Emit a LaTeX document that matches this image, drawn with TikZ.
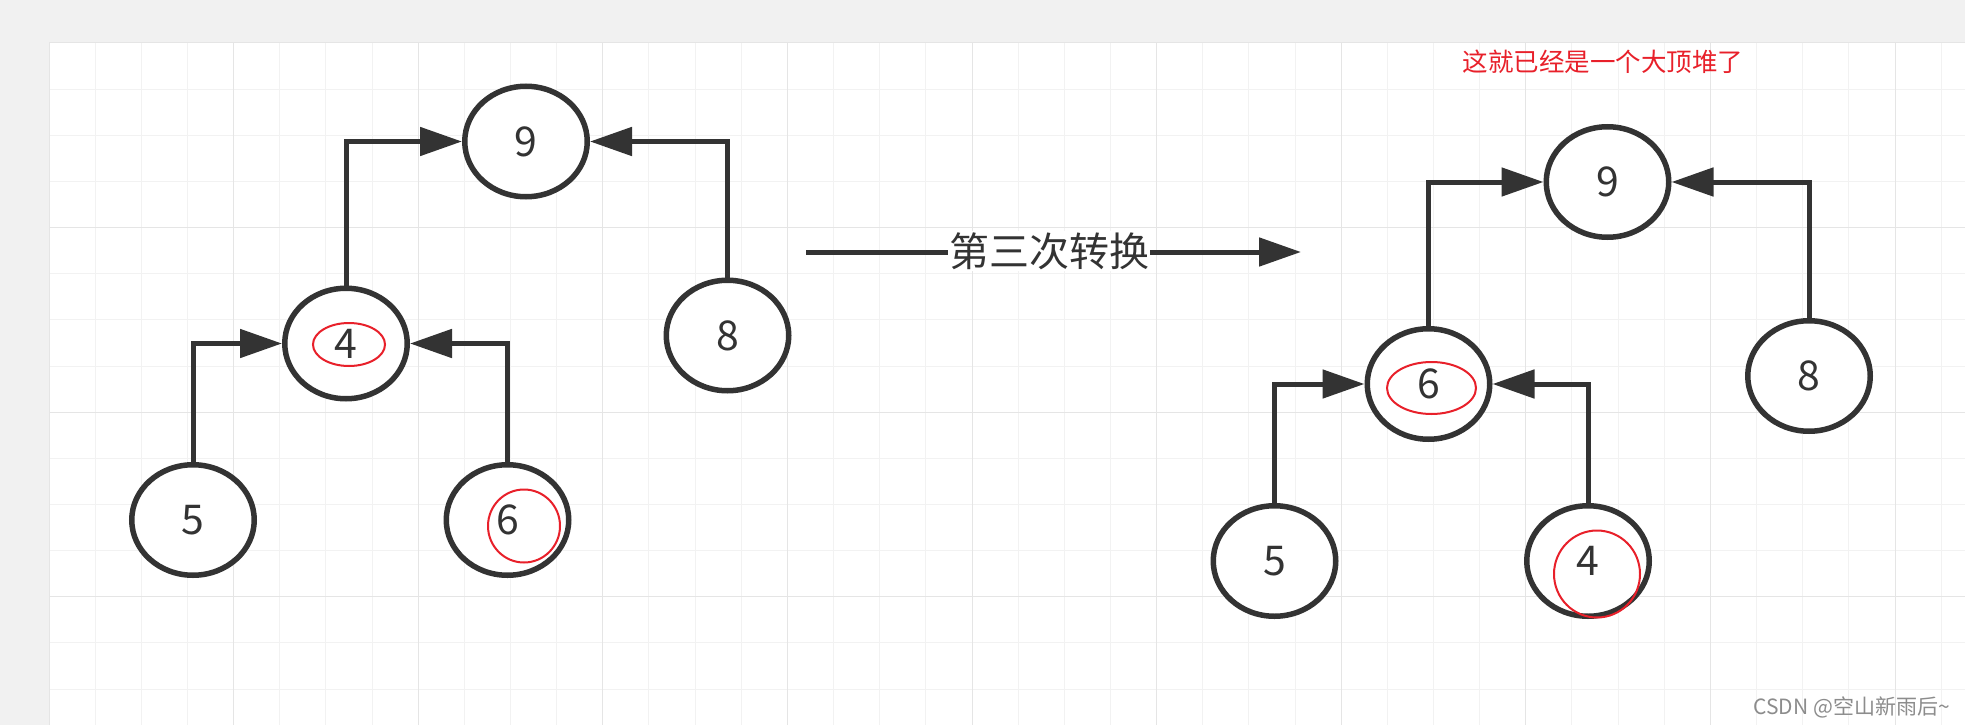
\documentclass[tikz,border=0pt]{standalone}
\usepackage{fontspec}
\setmainfont{Noto Sans CJK SC}
\usetikzlibrary{arrows.meta,shapes.geometric}
\definecolor{ink}{HTML}{333333}
\definecolor{bggray}{HTML}{F1F1F1}
\definecolor{gridminor}{HTML}{F2F2F2}
\definecolor{gridmajor}{HTML}{E5E5E5}
\definecolor{markred}{HTML}{E8202A}
\definecolor{wmgray}{HTML}{8C8C8C}
\tikzset{
  heapnode/.style={ellipse, draw=ink, fill=white, line width=5.5pt, minimum width=122.5pt, minimum height=110.5pt, inner sep=0pt, text=ink, font=\fontsize{41}{44}\selectfont},
  arr/.style={draw=ink, line width=5pt, -{Triangle[length=42pt,width=28pt]}, line join=miter},
  redmark/.style={draw=markred, line width=2pt},
  midlabel/.style={fill=white, inner sep=1pt, text=ink, font=\fontsize{40}{44}\selectfont},
  redtext/.style={text=markred, inner sep=0pt, font=\fontsize{25.5}{28}\selectfont},
  wmtext/.style={text=wmgray, inner sep=0pt, font=\fontsize{21}{24}\selectfont},
}
\begin{document}
\begin{tikzpicture}[x=1pt,y=-1pt]
\useasboundingbox (0,0) rectangle (1965,725);
% background and canvas
\fill[bggray] (0,0) rectangle (1965,725);
\fill[white] (49,43) rectangle (1965,725);
\foreach \i in {0,...,41} {
  \pgfmathsetmacro{\xx}{49+46.15*\i}
  \draw[gridminor, line width=1pt] (\xx,43) -- (\xx,725);
}
\foreach \i in {0,...,14} {
  \pgfmathsetmacro{\yy}{43+46.15*\i}
  \draw[gridminor, line width=1pt] (49,\yy) -- (1965,\yy);
}
\foreach \i in {0,...,10} {
  \pgfmathsetmacro{\xx}{49+184.6*\i}
  \draw[gridmajor, line width=1pt] (\xx,43) -- (\xx,725);
}
\foreach \i in {0,...,3} {
  \pgfmathsetmacro{\yy}{43+184.6*\i}
  \draw[gridmajor, line width=1pt] (49,\yy) -- (1965,\yy);
}

% left tree
\node[heapnode] (La) at (526,141.5) {9};
\node[heapnode] (Lb) at (346,343.5) {4};
\node[heapnode] (Lc) at (727.5,335.5) {8};
\node[heapnode] (Ld) at (193,520) {5};
\node[heapnode] (Le) at (507.5,520) {6};
\draw[arr] (Lb.north) |- (La.west);
\draw[arr] (Lc.north) |- (La.east);
\draw[arr] (Ld.north) |- (Lb.west);
\draw[arr] (Le.north) |- (Lb.east);
\draw[redmark] (349,344.5) ellipse [x radius=36, y radius=21.5];
\draw[redmark] (524,526) ellipse [x radius=36, y radius=36.5];

% middle arrow
\coordinate (ms) at (806,252);
\coordinate (me) at (1301,252);
\draw[arr] (ms) -- (me);
\node[midlabel] (mt) at (1049,251) {第三次转换};

% right tree
\node[heapnode] (Ra) at (1607.5,182) {9};
\node[heapnode] (Rb) at (1428.5,384) {6};
\node[heapnode] (Rc) at (1809,376) {8};
\node[heapnode] (Rd) at (1274.5,561) {5};
\node[heapnode] (Re) at (1588,561) {4};
\draw[arr] (Rb.north) |- (Ra.west);
\draw[arr] (Rc.north) |- (Ra.east);
\draw[arr] (Rd.north) |- (Rb.west);
\draw[arr] (Re.north) |- (Rb.east);
\draw[redmark] (1431.5,388) ellipse [x radius=44.5, y radius=26];
\draw[redmark] (1597,574) ellipse [x radius=43, y radius=43.5];

\node[redtext] (note) at (1603,61.5) {这就已经是一个大顶堆了};
\node[wmtext, anchor=east] (wm) at (1950,707) {CSDN @空山新雨后\textasciitilde};
\end{tikzpicture}
\end{document}
